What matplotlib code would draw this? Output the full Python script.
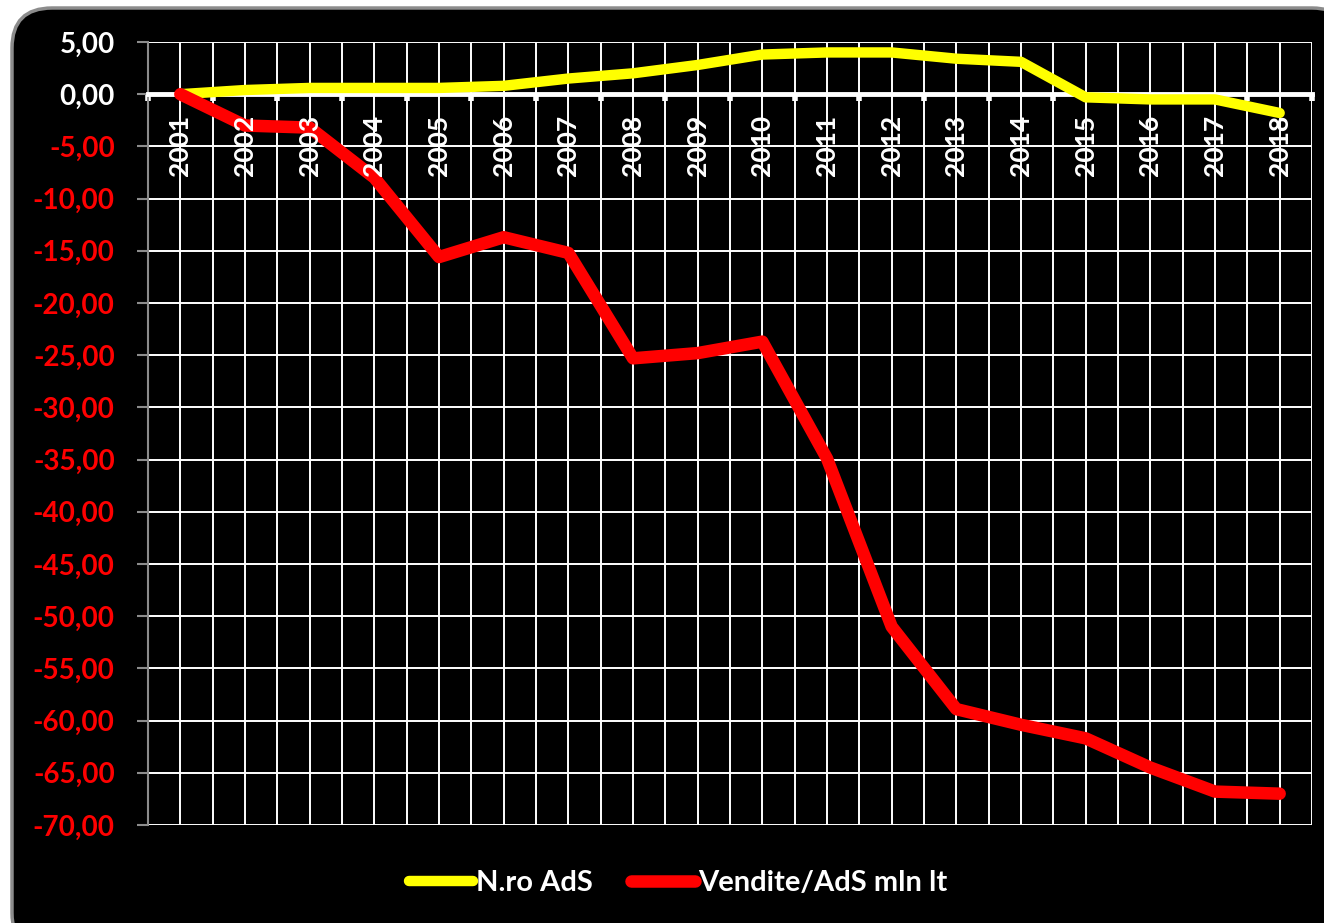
import numpy as np
import matplotlib.pyplot as plt
from matplotlib.patches import FancyBboxPatch
from matplotlib.ticker import FixedLocator

# values
anni = ['2001', '2002', '2003', '2004', '2005', '2006', '2007', '2008', '2009',
        '2010', '2011', '2012', '2013', '2014', '2015', '2016', '2017', '2018']
nro_ads = [0.0, 0.4, 0.6, 0.6, 0.6, 0.8, 1.5, 2.0, 2.8,
           3.8, 4.0, 4.0, 3.4, 3.1, -0.3, -0.5, -0.5, -1.8]
vendite_ads = [0.0, -3.0, -3.2, -8.0, -15.6, -13.7, -15.2, -25.3, -24.8,
               -23.7, -34.9, -51.0, -58.9, -60.4, -61.7, -64.5, -66.8, -67.0]
y_ticks = np.arange(-70, 6, 5)

plt.rcParams['font.family'] = ['Lato', 'DejaVu Sans']
plt.rcParams['font.weight'] = 'bold'

fig = plt.figure(figsize=(13.24, 9.23), dpi=100)
fig.patch.set_facecolor('white')

# black rounded background panel
box = FancyBboxPatch((12, -30), 1340, 923 - 8 + 30,
                     boxstyle="round,pad=0,rounding_size=40",
                     transform=None, facecolor='black',
                     edgecolor='#8c8c8c', linewidth=2.5, zorder=0)
fig.add_artist(box)

ax = fig.add_axes([148/1324, 1 - 825/923, (1312 - 148)/1324, (825 - 42)/923])
ax.set_facecolor('black')
ax.patch.set_alpha(0)

x = np.arange(len(anni))
ax.plot(x, nro_ads, color='#ffff00', lw=7.5, solid_capstyle='round',
        solid_joinstyle='round', label='N.ro AdS', zorder=4)
ax.plot(x, vendite_ads, color='#ff0000', lw=9, solid_capstyle='round',
        solid_joinstyle='round', label='Vendite/AdS mln lt', zorder=5)

ax.set_xlim(-0.5, len(anni) - 0.5)
ax.set_ylim(-70, 5)

# x axis crossing at zero; year labels drawn as texts so they sit above the lines
ax.xaxis.set_major_locator(FixedLocator(x))
ax.xaxis.set_minor_locator(FixedLocator(np.arange(-0.5, len(anni), 1)))
ax.tick_params(axis='x', which='major', length=0, labelbottom=False)
ax.tick_params(axis='x', which='minor', length=5, width=4, color='white',
               direction='out')
for i, a in enumerate(anni):
    ax.annotate(a, (i, 0), xytext=(0, -15), textcoords='offset points',
                rotation=90, ha='center', va='top', color='white',
                fontsize=19, fontweight='bold', zorder=6)
ax.spines['bottom'].set_position(('data', 0))
ax.spines['bottom'].set_color('white')
ax.spines['bottom'].set_linewidth(3.5)
ax.spines['bottom'].set_zorder(3)

for s in ['top', 'right']:
    ax.spines[s].set_visible(False)
ax.spines['left'].set_color('#8c8c8c')
ax.spines['left'].set_linewidth(1.5)

ax.set_yticks(y_ticks)
ax.set_yticklabels([('%.2f' % v).replace('.', ',') for v in y_ticks],
                   fontsize=20, fontweight='bold')
ax.tick_params(axis='y', length=8, width=1.5, color='#8c8c8c', pad=16)
for lab, v in zip(ax.get_yticklabels(), y_ticks):
    lab.set_color('white' if v >= 0 else '#ff0000')

ax.grid(True, which='both', axis='x', color='white', lw=1.4, zorder=1)
ax.grid(True, which='major', axis='y', color='white', lw=1.4, zorder=1)
ax.set_axisbelow(True)

leg = fig.legend(loc='center', bbox_to_anchor=(678/1324, 1 - 883/923), ncol=2,
                 frameon=False, fontsize=21, handlelength=2.2,
                 handletextpad=0.1, columnspacing=1.3)
for t in leg.get_texts():
    t.set_color('white')

fig.savefig('out.png', dpi=100, facecolor='white')
